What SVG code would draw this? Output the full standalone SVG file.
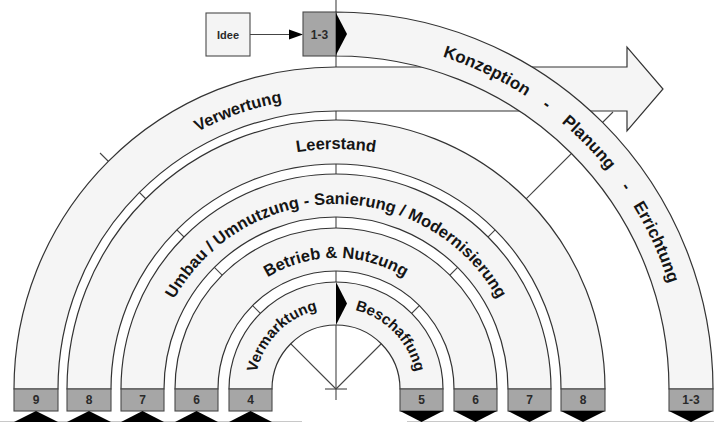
<svg xmlns="http://www.w3.org/2000/svg" width="714" height="422" viewBox="0 0 714 422">
  <style>
    .band { fill: #f5f5f5; stroke: #333; stroke-width: 1.2; }
    .guide { fill: none; stroke: #444; stroke-width: 1.1; }
    .box { fill: #a6a6a6; stroke: #4a4a4a; stroke-width: 1.1; }
    .plain { fill: #f4f4f4; stroke: #4a4a4a; stroke-width: 1.1; }
    .pin { fill: #000; }
    .lbl { font-family: "Liberation Sans", Arial, sans-serif; font-size: 16.5px; font-weight: bold; fill: #151515; }
    .lbl-l { font-family: "Liberation Sans", Arial, sans-serif; font-size: 17px; font-weight: bold; fill: #151515; }
    .lbl-s { font-family: "Liberation Sans", Arial, sans-serif; font-size: 15px; font-weight: bold; fill: #151515; }
    .num { font-family: "Liberation Sans", Arial, sans-serif; font-size: 12px; font-weight: bold; fill: #2a2a2a; text-anchor: middle; }
  </style>
  <defs>
    <!-- text baselines, left-to-right semicircles around the hub (336,389) -->
    <path id="tp13" d="M-13,389 A349,349 0 0 1 685,389"/>
    <path id="tp9" d="M44,389 A292,292 0 0 1 628,389"/>
    <path id="tp8" d="M96,389 A240,240 0 0 1 576,389"/>
    <path id="tp7" d="M151,389 A185,185 0 0 1 521,389"/>
    <path id="tp6" d="M205,389 A131,131 0 0 1 467,389"/>
    <path id="tp4" d="M255,389 A81,81 0 0 1 417,389"/>
  </defs>

  <rect width="714" height="422" fill="#fff"/>

  <!-- radial guide lines from the hub, mostly covered by the rings -->
  <g id="connectors">
    <line class="guide" x1="336" y1="0" x2="336" y2="400"/>
    <line class="guide" x1="336" y1="389" x2="613" y2="112"/>
    <line class="guide" x1="336" y1="389" x2="100" y2="153"/>
    <line class="guide" x1="325" y1="389" x2="347" y2="389"/>
    <line x1="0" y1="421.5" x2="302" y2="421.5" stroke="#c8c8c8" stroke-width="1"/>
    <line x1="407" y1="421.5" x2="714" y2="421.5" stroke="#c8c8c8" stroke-width="1"/>
    <!-- Idee -> 1-3 -->
    <line class="guide" x1="250" y1="34.5" x2="291" y2="34.5"/>
    <polygon class="pin" points="289,29.5 303,34.5 289,39.5"/>
  </g>

  <!-- 9: Verwertung, quarter ring turning into the horizontal arrow -->
  <g id="verwertung">
    <path class="band" d="M14,389 A322,322 0 0 1 336,67 L627,67 L627,47 L663,89 L627,131 L627,111 L336,111 A278,278 0 0 0 58,389 Z"/>
    <text class="lbl"><textPath href="#tp9" startOffset="39.2%" text-anchor="middle">Verwertung</textPath></text>
    <rect class="box" x="14" y="389" width="44" height="22"/>
    <text class="num" x="36" y="404">9</text>
    <polygon class="pin" points="14,422 36,411 58,422"/>
  </g>

  <!-- 8: Leerstand -->
  <g id="leerstand">
    <path class="band" d="M67,389 A269,269 0 0 1 605,389 L561,389 A225,225 0 0 0 111,389 Z"/>
    <text class="lbl"><textPath href="#tp8" startOffset="50%" text-anchor="middle">Leerstand</textPath></text>
    <rect class="box" x="67" y="389" width="44" height="22"/>
    <text class="num" x="89" y="404">8</text>
    <polygon class="pin" points="67,422 89,411 111,422"/>
    <rect class="box" x="561" y="389" width="44" height="22"/>
    <text class="num" x="583" y="404">8</text>
    <polygon class="pin" points="561,411 605,411 583,422"/>
  </g>

  <!-- 7: Umbau / Umnutzung - Sanierung / Modernisierung -->
  <g id="umbau">
    <path class="band" d="M121,389 A215,215 0 0 1 551,389 L508,389 A172,172 0 0 0 164,389 Z"/>
    <text class="lbl"><textPath href="#tp7" startOffset="50%" text-anchor="middle">Umbau / Umnutzung - Sanierung / Modernisierung</textPath></text>
    <rect class="box" x="121" y="389" width="43" height="22"/>
    <text class="num" x="142.5" y="404">7</text>
    <polygon class="pin" points="121,422 142.5,411 164,422"/>
    <rect class="box" x="508" y="389" width="43" height="22"/>
    <text class="num" x="529.5" y="404">7</text>
    <polygon class="pin" points="508,411 551,411 529.5,422"/>
  </g>

  <!-- 6: Betrieb & Nutzung -->
  <g id="betrieb">
    <path class="band" d="M175,389 A161,161 0 0 1 497,389 L454,389 A118,118 0 0 0 218,389 Z"/>
    <text class="lbl"><textPath href="#tp6" startOffset="50%" text-anchor="middle">Betrieb &amp; Nutzung</textPath></text>
    <rect class="box" x="175" y="389" width="43" height="22"/>
    <text class="num" x="196.5" y="404">6</text>
    <polygon class="pin" points="175,422 196.5,411 218,422"/>
    <rect class="box" x="454" y="389" width="43" height="22"/>
    <text class="num" x="475.5" y="404">6</text>
    <polygon class="pin" points="454,411 497,411 475.5,422"/>
  </g>

  <!-- 4 / 5: Vermarktung | Beschaffung -->
  <g id="vermarktung-beschaffung">
    <path class="band" d="M229,389 A107,107 0 0 1 443,389 L400,389 A64,64 0 0 0 272,389 Z"/>
    <polygon class="pin" points="336,282 347,303.5 336,325"/>
    <text class="lbl-s"><textPath href="#tp4" startOffset="24.6%" text-anchor="middle">Vermarktung</textPath></text>
    <text class="lbl-s"><textPath href="#tp4" startOffset="75.4%" text-anchor="middle">Beschaffung</textPath></text>
    <rect class="box" x="229" y="389" width="43" height="22"/>
    <text class="num" x="250.5" y="404">4</text>
    <polygon class="pin" points="229,422 250.5,411 272,422"/>
    <rect class="box" x="400" y="389" width="43" height="22"/>
    <text class="num" x="421.5" y="404">5</text>
    <polygon class="pin" points="400,411 443,411 421.5,422"/>
  </g>

  <!-- 1-3: Konzeption - Planung - Errichtung -->
  <g id="konzeption">
    <path class="band" d="M336,12 A377,377 0 0 1 713,389 L669,389 A333,333 0 0 0 336,56 Z"/>
    <rect class="box" x="303" y="12" width="33" height="44"/>
    <text class="num" x="319.5" y="38.5">1-3</text>
    <polygon class="pin" points="336,13 347,34 336,55"/>
    <text class="lbl-l"><textPath href="#tp13" startOffset="64.1%" text-anchor="middle">Konzeption</textPath></text>
    <text class="lbl-l"><textPath href="#tp13" startOffset="70.3%" text-anchor="middle">-</textPath></text>
    <text class="lbl-l"><textPath href="#tp13" startOffset="75.4%" text-anchor="middle">Planung</textPath></text>
    <text class="lbl-l"><textPath href="#tp13" startOffset="80.6%" text-anchor="middle">-</textPath></text>
    <text class="lbl-l"><textPath href="#tp13" startOffset="86.3%" text-anchor="middle">Errichtung</textPath></text>
    <rect class="box" x="669" y="389" width="44" height="22"/>
    <text class="num" x="691" y="404">1-3</text>
    <polygon class="pin" points="669,411 713,411 691,422"/>
  </g>

  <!-- Idee -->
  <g id="idee">
    <rect class="plain" x="206" y="13" width="44" height="43"/>
    <text class="num" x="228" y="38.5" style="font-size:11px">Idee</text>
  </g>
</svg>
